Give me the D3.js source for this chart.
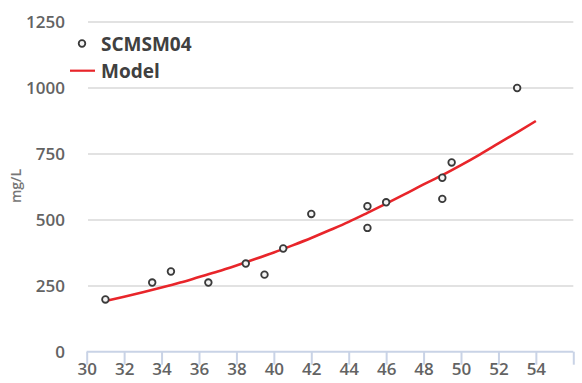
<!DOCTYPE html>
<html><head><meta charset="utf-8">
<script src="https://cdn.jsdelivr.net/npm/d3@7/dist/d3.min.js"></script>
<style>
html,body{margin:0;padding:0;background:#fff;}
svg{display:block;font-family:"Open Sans",sans-serif;}
</style></head>
<body>
<svg id="chart" width="582" height="383"></svg>
<script>
// Observed data (SCMSM04)
const obsX = [31, 33.5, 34.5, 36.5, 38.5, 39.5, 40.5, 42, 45, 45, 46, 49, 49, 49.5, 53];
const obsY = [199, 263, 305, 263, 335, 293, 392, 523, 552, 470, 567, 580, 660, 718, 1000];
// Model curve values
const modelX = [31,32,33,34,35,36,37,38,39,40,41,42,43,44,45,46,47,48,49,50,51,52,53,54];
const modelY = [193,209,226,244,263,284,305,328,352,377,404,432,462,493,527,562,598,635,670,708,748,790,832,875];
const xTicks = [30,32,34,36,38,40,42,44,46,48,50,52,54,56];
const xTickLabels = ["30","32","34","36","38","40","42","44","46","48","50","52","54",""];
const yTicks = [0,250,500,750,1000,1250];
const seriesNames = ["SCMSM04","Model"];
const yTitle = "mg/L";

const svg = d3.select("#chart");
const x = d3.scaleLinear().domain([30,56]).range([86.7,573.3]);
const y = d3.scaleLinear().domain([0,1250]).range([352,22]);

// gridlines
svg.append("g").selectAll("line").data(yTicks.filter(d=>d>0)).join("line")
  .attr("x1",88).attr("x2",573.3)
  .attr("y1",d=>y(d)).attr("y2",d=>y(d))
  .attr("stroke","#e2e2e2").attr("stroke-width",2);

// y tick labels
svg.append("g").selectAll("text").data(yTicks).join("text")
  .attr("x",65).attr("y",d=>y(d)).attr("dy","0.35em")
  .attr("text-anchor","end").attr("font-size",17).attr("font-weight",600).attr("fill","#636363")
  .text(d=>d);

// x axis
const xAxis = d3.axisBottom(x).tickValues(xTicks).tickSize(13)
  .tickFormat((d,i)=>xTickLabels[i]);
const gx = svg.append("g").attr("transform","translate(0,351.7)").call(xAxis);
gx.select(".domain").attr("stroke","#c9d3e6").attr("stroke-width",2).attr("d",`M${x(30)},0H${x(56)}`);
gx.selectAll(".tick line").attr("stroke","#c9d3e6").attr("stroke-width",2);
gx.selectAll(".tick text").attr("font-size",17).attr("font-weight",600).attr("fill","#636363")
  .attr("font-family","Open Sans, sans-serif").attr("y",11).attr("dy","0.71em");

// y title
svg.append("text").attr("transform","translate(21,186) rotate(-90)")
  .attr("text-anchor","middle").attr("font-size",14).attr("font-weight",600).attr("fill","#777").text(yTitle);

// model line
const line = d3.line().x((d,i)=>x(modelX[i])).y(d=>y(d)).curve(d3.curveMonotoneX);
svg.append("path").datum(modelY).attr("d",line)
  .attr("fill","none").attr("stroke","#e8252a").attr("stroke-width",2.6);

// observed points
svg.append("g").selectAll("circle").data(obsY).join("circle")
  .attr("cx",(d,i)=>x(obsX[i])).attr("cy",d=>y(d)).attr("r",3.3)
  .attr("fill","#f4f4f4").attr("stroke","#3a3a3a").attr("stroke-width",1.8);

// legend
const lg = svg.append("g");
lg.append("circle").attr("cx",82).attr("cy",43.5).attr("r",3.3)
  .attr("fill","#f4f4f4").attr("stroke","#3a3a3a").attr("stroke-width",1.8);
lg.append("line").attr("x1",70).attr("x2",95).attr("y1",70.7).attr("y2",70.7)
  .attr("stroke","#e8252a").attr("stroke-width",2.2);
lg.selectAll("text").data(seriesNames).join("text")
  .attr("x",101).attr("y",(d,i)=>i===0?44:71).attr("dy","0.35em")
  .attr("font-size",19).attr("font-weight",700).attr("fill","#404040")
  .text(d=>d);
</script>
</body></html>
